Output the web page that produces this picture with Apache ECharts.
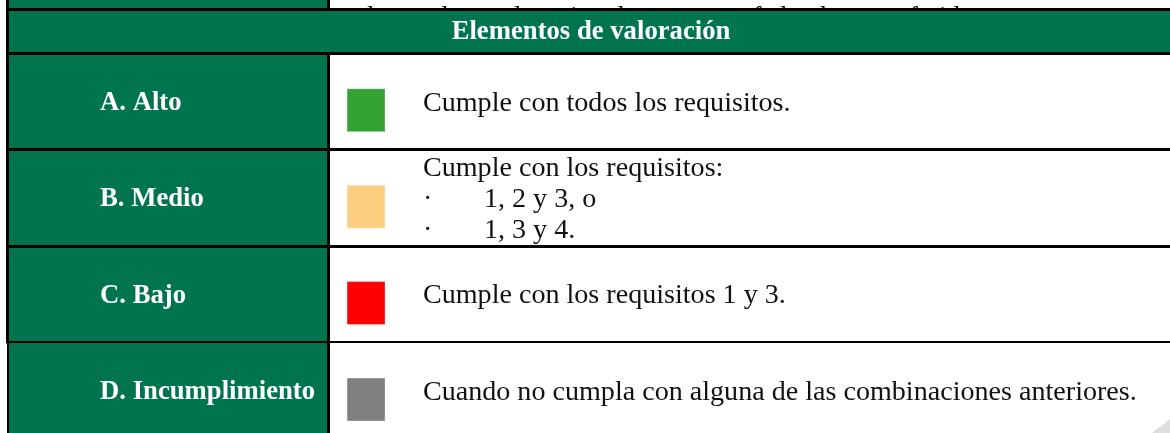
<!DOCTYPE html>
<html><head><meta charset="utf-8">
<script src="https://cdn.jsdelivr.net/npm/echarts@6/dist/echarts.min.js"></script>
<style>html,body{margin:0;padding:0;background:#fff;overflow:hidden}#c{width:1170px;height:433px}</style>
</head><body><div id="c"></div>
<script>
// ---- data ----
const headerTitle = 'Elementos de valoración';
const previousRowText = 'las cuales se depositen los recursos federales transferidos.';
const levels = ['A. Alto', 'B. Medio', 'C. Bajo', 'D. Incumplimiento'];
const levelIndex = [0, 1, 2, 3];
const descriptions = [
  ['Cumple con todos los requisitos.'],
  ['Cumple con los requisitos:', '·1, 2 y 3, o', '·1, 3 y 4.'],
  ['Cumple con los requisitos 1 y 3.'],
  ['Cuando no cumpla con alguna de las combinaciones anteriores.']
];
// ---- styles ----
const swatchPalette = ['#34a334', '#fdce80', '#ff0000', '#808080'];
const GREEN = '#00744f';
const SERIF = "'Liberation Serif', 'Times New Roman', serif";
const BODY_FONT = "28.1px " + SERIF;
const LABEL_FONT = "bold 26.7px " + SERIF;

const chart = echarts.init(document.getElementById('c'), null, {renderer: 'canvas'});

function renderRow(params, api) {
  const i = api.value(1);
  const cs = params.coordSys;
  const center = api.coord([0, i]);
  const bandH = api.size([0, 1])[1];
  const top = Math.round(center[1] - bandH / 2);
  const xAt = f => api.coord([f, i])[0];
  const x0 = cs.x, x1 = cs.x + cs.width;
  const split = xAt(0.2758);
  const border = i === 3 ? 2 : 3;
  const children = [
    {type: 'rect', shape: {x: x0 + 3, y: top, width: split - x0 - 3, height: bandH + 1}, style: {fill: GREEN}},
    {type: 'rect', shape: {x: x0 + (3 - border), y: top, width: border, height: bandH + 1}, style: {fill: '#000'}},
    {type: 'rect', shape: {x: split, y: top, width: 3, height: bandH + 1}, style: {fill: '#000'}},
    {type: 'rect', shape: {x: x0, y: top - 1, width: x1 - x0, height: i === 3 ? 2 : 3}, style: {fill: '#000'}},
    {type: 'rect', shape: {x: xAt(0.293), y: center[1] + 9 - 21.5, width: 38, height: 43},
      style: {fill: api.visual('color'), stroke: 'rgba(255,255,255,0.35)', lineWidth: 1}},
    {type: 'text', style: {text: levels[i], x: xAt(0.0808), y: center[1] + 1.5, font: LABEL_FONT,
      fill: '#fff', align: 'left', verticalAlign: 'middle'}}
  ];
  const lines = descriptions[i];
  const lh = 31;
  const tx = xAt(0.3582);
  lines.forEach((ln, k) => {
    const y = center[1] + 2 + (k - (lines.length - 1) / 2) * lh;
    if (ln.charAt(0) === '·') {
      children.push({type: 'text', style: {text: '·', x: tx, y: y, font: BODY_FONT, fill: '#111', verticalAlign: 'middle'}});
      children.push({type: 'text', style: {text: ln.slice(1), x: tx + 61, y: y, font: BODY_FONT, fill: '#111', verticalAlign: 'middle'}});
    } else {
      children.push({type: 'text', style: {text: ln, x: tx, y: y, font: BODY_FONT, fill: '#111', verticalAlign: 'middle'}});
    }
  });
  return {type: 'group', children: children};
}

chart.setOption({
  animation: false,
  grid: {left: 6, right: 0, top: 53, bottom: 0},
  xAxis: {type: 'value', min: 0, max: 1, show: false},
  // each row spans one unit; the last row runs past the bottom edge of the picture
  yAxis: {type: 'value', min: -0.5, max: 3.44, inverse: true, show: false},
  graphic: [
    // previous (cut) row
    {type: 'rect', shape: {x: 9, y: 0, width: 318, height: 9}, style: {fill: GREEN}, silent: true},
    {type: 'rect', shape: {x: 6, y: 0, width: 3, height: 9}, style: {fill: '#000'}, silent: true},
    {type: 'rect', shape: {x: 327, y: 0, width: 3, height: 9}, style: {fill: '#000'}, silent: true},
    {type: 'text', style: {text: previousRowText, x: 367, y: 4.5, font: "27px " + SERIF, fill: '#111', verticalAlign: 'alphabetic'}, silent: true},
    // header band
    {type: 'rect', shape: {x: 6, y: 8, width: 1164, height: 3}, style: {fill: '#000'}, silent: true},
    {type: 'rect', shape: {x: 6, y: 11, width: 3, height: 42}, style: {fill: '#000'}, silent: true},
    {type: 'rect', shape: {x: 9, y: 11, width: 1161, height: 41}, style: {fill: GREEN}, silent: true},
    {type: 'text', style: {text: headerTitle, x: 591, y: 32.5, font: LABEL_FONT, fill: '#fff', align: 'center', verticalAlign: 'middle'}, silent: true},
    // page curl
    {type: 'polygon', shape: {points: [[1152, 433], [1170, 419], [1170, 433]]}, style: {fill: '#dedede'}, silent: true, z: 100}
  ],
  series: [{
    type: 'custom',
    renderItem: renderRow,
    clip: false,
    data: levelIndex.map(i => ({value: [0, i], itemStyle: {color: swatchPalette[i]}})),
    encode: {x: 0, y: 1}
  }]
});
</script></body></html>
